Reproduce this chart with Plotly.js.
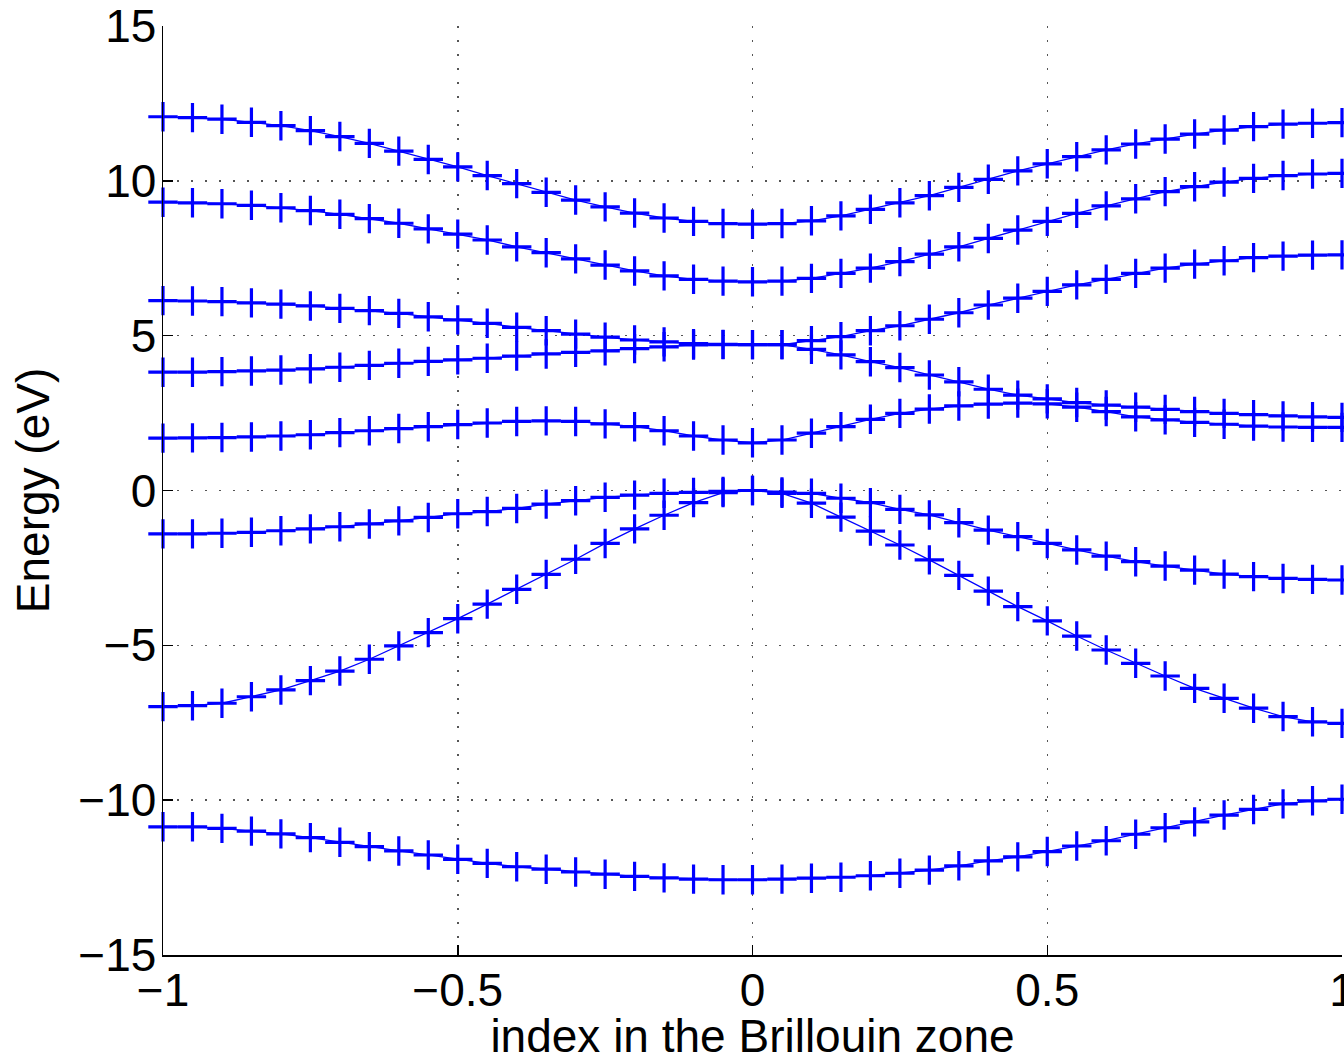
<!DOCTYPE html>
<html>
<head>
<meta charset="utf-8">
<script src="https://cdn.plot.ly/plotly-3.0.1.min.js"></script>
<style>
html,body{margin:0;padding:0;background:#fff;}
#chart{width:1344px;height:1062px;}
</style>
</head>
<body>
<div id="chart"></div>
<script>
var kpts = [-1.00,-0.95,-0.90,-0.85,-0.80,-0.75,-0.70,-0.65,-0.60,-0.55,-0.50,
            -0.45,-0.40,-0.35,-0.30,-0.25,-0.20,-0.15,-0.10,-0.05,0.00,
             0.05,0.10,0.15,0.20,0.25,0.30,0.35,0.40,0.45,0.50,
             0.55,0.60,0.65,0.70,0.75,0.80,0.85,0.90,0.95,1.00];

var band1 = [12.07,12.04,11.99,11.89,11.78,11.62,11.43,11.21,10.96,10.69,10.45,
             10.17,9.91,9.63,9.38,9.16,8.96,8.80,8.69,8.62,8.60,
             8.62,8.71,8.87,9.08,9.29,9.52,9.79,10.05,10.32,10.55,
             10.78,11.00,11.19,11.35,11.51,11.64,11.75,11.83,11.86,11.88];
var band2 = [9.31,9.29,9.26,9.21,9.13,9.04,8.92,8.78,8.63,8.45,8.28,
             8.09,7.87,7.68,7.48,7.28,7.09,6.93,6.82,6.76,6.74,
             6.76,6.85,7.01,7.18,7.39,7.63,7.87,8.14,8.41,8.69,
             8.95,9.19,9.42,9.65,9.81,9.96,10.08,10.17,10.22,10.24];
var band3 = [6.13,6.12,6.10,6.06,6.02,5.96,5.88,5.81,5.72,5.61,5.51,
             5.40,5.27,5.16,5.05,4.95,4.86,4.80,4.74,4.72,4.71,
             4.71,4.84,4.97,5.16,5.32,5.53,5.74,5.99,6.21,6.43,
             6.64,6.82,7.01,7.18,7.31,7.42,7.52,7.57,7.60,7.61];
var band4 = [3.82,3.82,3.84,3.86,3.89,3.93,3.98,4.04,4.11,4.17,4.22,
             4.27,4.34,4.41,4.46,4.51,4.58,4.64,4.70,4.71,4.71,
             4.71,4.56,4.38,4.16,3.97,3.73,3.51,3.27,3.08,2.96,
             2.84,2.76,2.69,2.62,2.55,2.49,2.45,2.41,2.38,2.36];
var band5 = [1.69,1.70,1.71,1.73,1.76,1.80,1.87,1.93,2.00,2.06,2.13,
             2.18,2.23,2.25,2.23,2.15,2.06,1.93,1.76,1.63,1.54,
             1.63,1.85,2.06,2.30,2.49,2.63,2.73,2.79,2.82,2.80,
             2.69,2.55,2.38,2.28,2.20,2.14,2.08,2.05,2.04,2.04];
var band6 = [-1.40,-1.40,-1.38,-1.35,-1.30,-1.24,-1.17,-1.08,-0.98,-0.87,-0.75,
             -0.68,-0.58,-0.44,-0.33,-0.22,-0.15,-0.09,-0.06,-0.03,0.00,
             -0.05,-0.09,-0.25,-0.39,-0.61,-0.79,-1.04,-1.28,-1.49,-1.71,
             -1.92,-2.12,-2.30,-2.44,-2.57,-2.70,-2.78,-2.84,-2.87,-2.89];
var band7 = [-6.98,-6.95,-6.87,-6.66,-6.44,-6.14,-5.83,-5.45,-5.02,-4.59,-4.14,
             -3.67,-3.19,-2.71,-2.22,-1.71,-1.24,-0.80,-0.39,-0.07,0.00,
             -0.09,-0.41,-0.86,-1.31,-1.76,-2.24,-2.74,-3.25,-3.75,-4.21,
             -4.70,-5.15,-5.58,-5.99,-6.39,-6.71,-7.03,-7.30,-7.47,-7.52];
var band8 = [-10.86,-10.86,-10.91,-11.00,-11.09,-11.21,-11.36,-11.50,-11.64,-11.77,-11.91,
             -12.04,-12.15,-12.23,-12.32,-12.39,-12.46,-12.51,-12.55,-12.57,-12.57,
             -12.55,-12.52,-12.49,-12.44,-12.36,-12.26,-12.12,-11.96,-11.83,-11.66,
             -11.48,-11.31,-11.10,-10.89,-10.70,-10.48,-10.30,-10.12,-10.02,-9.97];

var xTickVals = [-1,-0.5,0,0.5,1];
var xTickText = ['\u22121','\u22120.5','0','0.5','1'];
var yTickVals = [-15,-10,-5,0,5,10,15];
var yTickText = ['\u221215','\u221210','\u22125','0','5','10','15'];

var bands = [band1,band2,band3,band4,band5,band6,band7,band8];
var traces = bands.map(function(b){
  return {
    x: kpts, y: b, type: 'scatter', mode: 'lines+markers',
    line: {color: '#0000ff', width: 1.3},
    marker: {symbol: 'cross-thin', size: 21, line: {color: '#0000ff', width: 3.2}},
    cliponaxis: false,
    showlegend: false, hoverinfo: 'skip'
  };
});

var font = "'Liberation Sans', Arial, Helvetica, sans-serif";
var layout = {
  width: 1344, height: 1062,
  margin: {l: 163, r: 2, t: 26, b: 107, pad: 0},
  paper_bgcolor: '#ffffff', plot_bgcolor: '#ffffff',
  font: {family: font, size: 46, color: '#000000'},
  xaxis: {
    range: [-1, 1], tickmode: 'array', tickvals: xTickVals, ticktext: xTickText,
    ticks: 'inside', ticklen: 10, tickwidth: 1.5, tickcolor: '#000',
    showline: true, linecolor: '#000', linewidth: 1.5, mirror: false,
    showgrid: true, gridcolor: '#555', griddash: '2px,12px', gridwidth: 1.5,
    zeroline: false, ticklabelstandoff: -6, ticklabeloverflow: 'allow',
    tickfont: {family: font, size: 46, color: '#000'},
    title: {text: 'index in the Brillouin zone', font: {family: font, size: 46, color: '#000'}, standoff: 23}
  },
  yaxis: {
    range: [-15, 15], tickmode: 'array', tickvals: yTickVals, ticktext: yTickText,
    ticks: 'inside', ticklen: 10, tickwidth: 1.5, tickcolor: '#000',
    showline: true, linecolor: '#000', linewidth: 1.5, mirror: false,
    showgrid: true, gridcolor: '#555', griddash: '2px,12px', gridwidth: 1.5,
    zeroline: false, ticklabelstandoff: -4, ticklabeloverflow: 'allow',
    tickfont: {family: font, size: 46, color: '#000'},
    title: {text: 'Energy (eV)', font: {family: font, size: 46, color: '#000'}, standoff: 14}
  }
};

Plotly.newPlot('chart', traces, layout, {displayModeBar: false, staticPlot: true});
</script>
</body>
</html>
